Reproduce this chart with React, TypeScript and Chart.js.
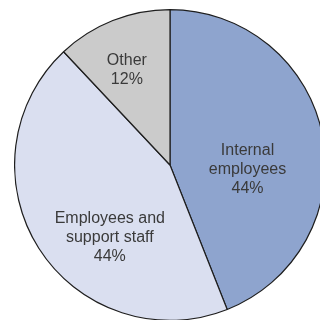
import React, { useEffect, useRef } from "react";
import { Chart, registerables } from "chart.js";

Chart.register(...registerables);

const categories = ["Internal employees", "Employees and support staff", "Other"];
const labelLines = [["Internal", "employees"], ["Employees and", "support staff"], ["Other"]];
const values = [44, 44, 12];
const colors = ["#8ea4ce", "#dadff0", "#cbcbcb"];

// per-slice label placement: angle shift (deg) from slice middle and radius fraction
const labelPlacement = [
  { da: 14.5, f: 0.5 },
  { da: -17.8, f: 0.605 },
  { da: -2.8, f: 0.672 },
];

const sliceLabels = {
  id: "sliceLabels",
  afterDatasetsDraw(chart: any) {
    const ctx = chart.ctx;
    const meta = chart.getDatasetMeta(0);
    const total = values.reduce((a, b) => a + b, 0);
    ctx.save();
    ctx.font = "16px 'Liberation Sans', Arial, sans-serif";
    ctx.fillStyle = "#3a3a3a";
    ctx.textAlign = "center";
    ctx.textBaseline = "middle";
    meta.data.forEach((arc: any, i: number) => {
      const p = arc.getProps(["x", "y", "startAngle", "endAngle", "outerRadius"], true);
      const mid = (p.startAngle + p.endAngle) / 2 + (labelPlacement[i].da * Math.PI) / 180;
      const r = p.outerRadius * labelPlacement[i].f;
      const cx = p.x + Math.cos(mid) * r;
      const cy = p.y + Math.sin(mid) * r;
      const lines = [...labelLines[i], Math.round((values[i] / total) * 100) + "%"];
      const lh = 19;
      const y0 = cy - ((lines.length - 1) * lh) / 2;
      lines.forEach((t, k) => ctx.fillText(t, cx, y0 + k * lh));
    });
    ctx.restore();
  },
};

export default function App() {
  const ref = useRef<HTMLCanvasElement | null>(null);
  useEffect(() => {
    if (!ref.current) return;
    const chart = new Chart(ref.current, {
      type: "pie",
      data: {
        labels: categories,
        datasets: [
          {
            data: values,
            backgroundColor: colors,
            borderColor: "#1e1e1e",
            borderWidth: 1.2,
          },
        ],
      },
      options: {
        responsive: false,
        animation: false,
        devicePixelRatio: 1,
        layout: { padding: 0 },
        plugins: {
          legend: { display: false },
          tooltip: { enabled: false },
          title: { display: false },
        },
      },
      plugins: [sliceLabels],
    });
    return () => chart.destroy();
  }, []);
  return (
    <div style={{ position: "fixed", left: 0, top: 0, width: 320, height: 320, overflow: "hidden", background: "#fff" }}>
      <canvas ref={ref} width={312} height={312} style={{ position: "absolute", left: 14, top: 9 }} />
    </div>
  );
}
